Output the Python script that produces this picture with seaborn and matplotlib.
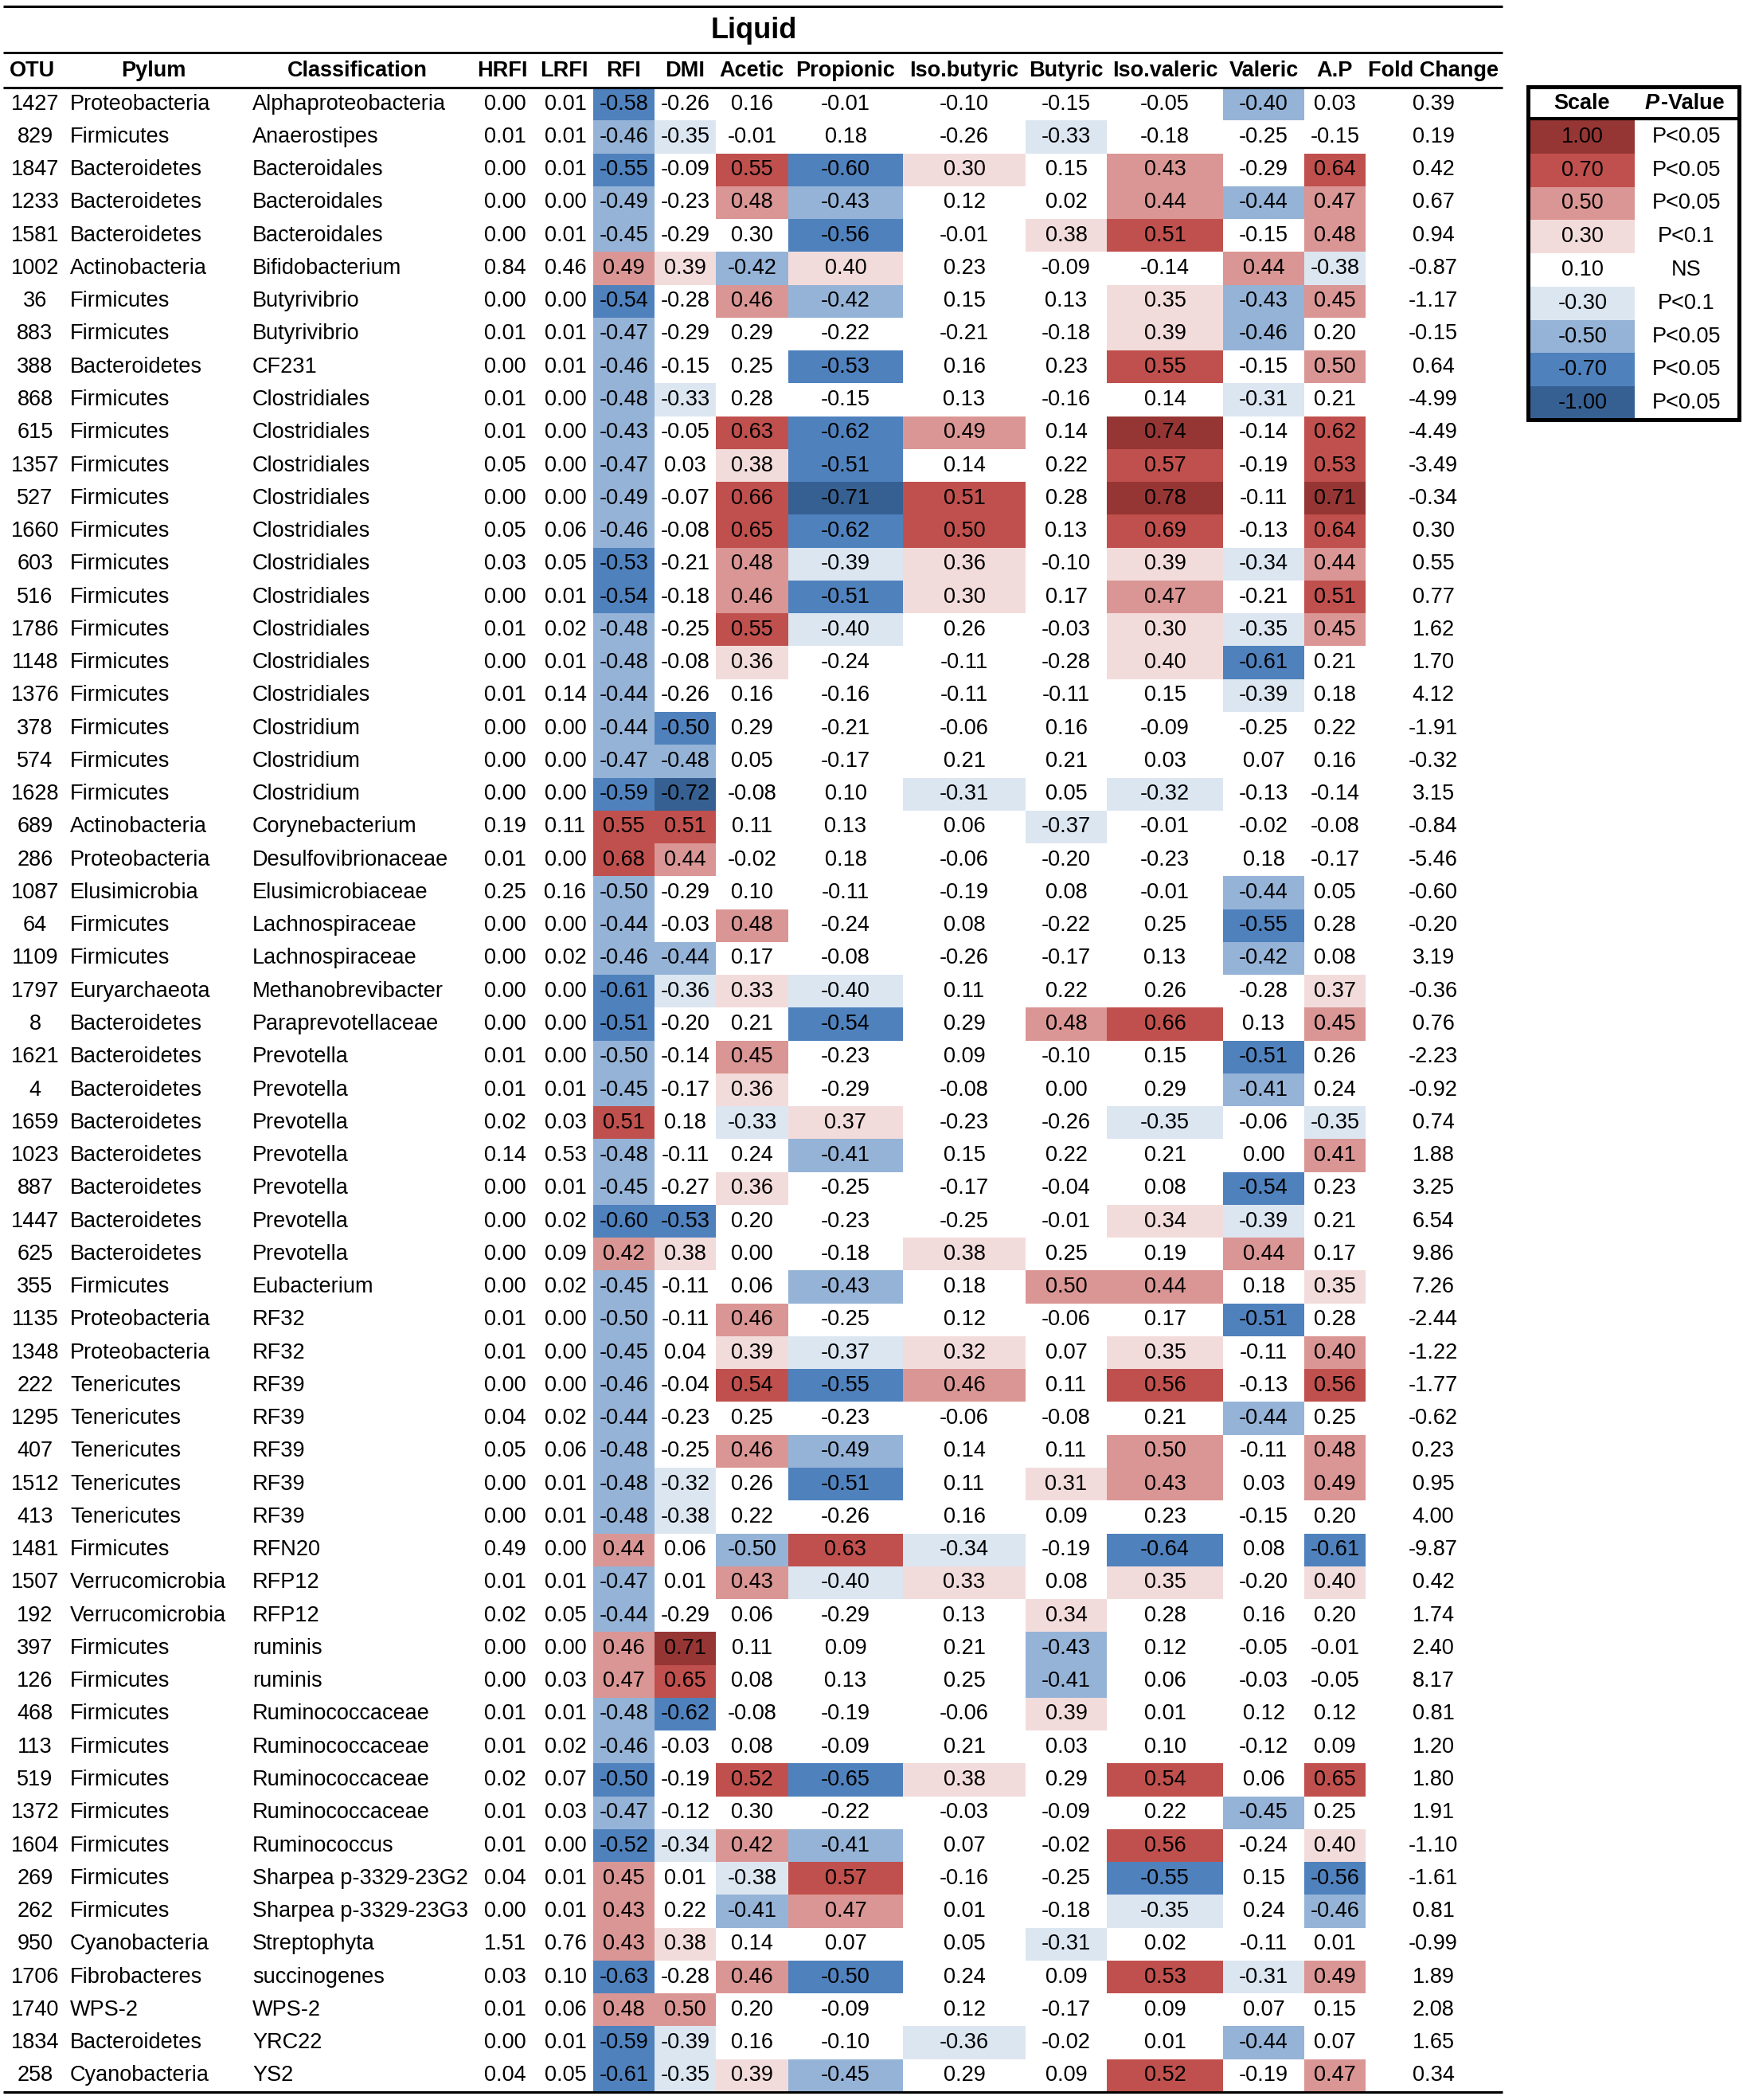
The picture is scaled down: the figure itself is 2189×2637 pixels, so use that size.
import numpy as np
import pandas as pd
import matplotlib
matplotlib.use('Agg')
import matplotlib.pyplot as plt
from matplotlib.colors import ListedColormap
from matplotlib.patches import Rectangle
import seaborn as sns

plt.rcParams['font.family'] = ['Liberation Sans', 'DejaVu Sans']

otu = [1427, 829, 1847, 1233, 1581, 1002, 36, 883, 388, 868,
       615, 1357, 527, 1660, 603, 516, 1786, 1148, 1376, 378,
       574, 1628, 689, 286, 1087, 64, 1109, 1797, 8, 1621,
       4, 1659, 1023, 887, 1447, 625, 355, 1135, 1348, 222,
       1295, 407, 1512, 413, 1481, 1507, 192, 397, 126, 468,
       113, 519, 1372, 1604, 269, 262, 950, 1706, 1740, 1834,
       258]

pylum = ['Proteobacteria', 'Firmicutes', 'Bacteroidetes', 'Bacteroidetes', 'Bacteroidetes',
         'Actinobacteria', 'Firmicutes', 'Firmicutes', 'Bacteroidetes', 'Firmicutes',
         'Firmicutes', 'Firmicutes', 'Firmicutes', 'Firmicutes', 'Firmicutes',
         'Firmicutes', 'Firmicutes', 'Firmicutes', 'Firmicutes', 'Firmicutes',
         'Firmicutes', 'Firmicutes', 'Actinobacteria', 'Proteobacteria', 'Elusimicrobia',
         'Firmicutes', 'Firmicutes', 'Euryarchaeota', 'Bacteroidetes', 'Bacteroidetes',
         'Bacteroidetes', 'Bacteroidetes', 'Bacteroidetes', 'Bacteroidetes', 'Bacteroidetes',
         'Bacteroidetes', 'Firmicutes', 'Proteobacteria', 'Proteobacteria', 'Tenericutes',
         'Tenericutes', 'Tenericutes', 'Tenericutes', 'Tenericutes', 'Firmicutes',
         'Verrucomicrobia', 'Verrucomicrobia', 'Firmicutes', 'Firmicutes', 'Firmicutes',
         'Firmicutes', 'Firmicutes', 'Firmicutes', 'Firmicutes', 'Firmicutes',
         'Firmicutes', 'Cyanobacteria', 'Fibrobacteres', 'WPS-2', 'Bacteroidetes',
         'Cyanobacteria']

classification = ['Alphaproteobacteria', 'Anaerostipes', 'Bacteroidales', 'Bacteroidales', 'Bacteroidales',
                  'Bifidobacterium', 'Butyrivibrio', 'Butyrivibrio', 'CF231', 'Clostridiales',
                  'Clostridiales', 'Clostridiales', 'Clostridiales', 'Clostridiales', 'Clostridiales',
                  'Clostridiales', 'Clostridiales', 'Clostridiales', 'Clostridiales', 'Clostridium',
                  'Clostridium', 'Clostridium', 'Corynebacterium', 'Desulfovibrionaceae', 'Elusimicrobiaceae',
                  'Lachnospiraceae', 'Lachnospiraceae', 'Methanobrevibacter', 'Paraprevotellaceae', 'Prevotella',
                  'Prevotella', 'Prevotella', 'Prevotella', 'Prevotella', 'Prevotella',
                  'Prevotella', 'Eubacterium', 'RF32', 'RF32', 'RF39',
                  'RF39', 'RF39', 'RF39', 'RF39', 'RFN20',
                  'RFP12', 'RFP12', 'ruminis', 'ruminis', 'Ruminococcaceae',
                  'Ruminococcaceae', 'Ruminococcaceae', 'Ruminococcaceae', 'Ruminococcus', 'Sharpea p-3329-23G2',
                  'Sharpea p-3329-23G3', 'Streptophyta', 'succinogenes', 'WPS-2', 'YRC22',
                  'YS2']

hrfi = [0.00, 0.01, 0.00, 0.00, 0.00, 0.84, 0.00, 0.01, 0.00, 0.01,
        0.01, 0.05, 0.00, 0.05, 0.03, 0.00, 0.01, 0.00, 0.01, 0.00,
        0.00, 0.00, 0.19, 0.01, 0.25, 0.00, 0.00, 0.00, 0.00, 0.01,
        0.01, 0.02, 0.14, 0.00, 0.00, 0.00, 0.00, 0.01, 0.01, 0.00,
        0.04, 0.05, 0.00, 0.00, 0.49, 0.01, 0.02, 0.00, 0.00, 0.01,
        0.01, 0.02, 0.01, 0.01, 0.04, 0.00, 1.51, 0.03, 0.01, 0.00,
        0.04]
lrfi = [0.01, 0.01, 0.01, 0.00, 0.01, 0.46, 0.00, 0.01, 0.01, 0.00,
        0.00, 0.00, 0.00, 0.06, 0.05, 0.01, 0.02, 0.01, 0.14, 0.00,
        0.00, 0.00, 0.11, 0.00, 0.16, 0.00, 0.02, 0.00, 0.00, 0.00,
        0.01, 0.03, 0.53, 0.01, 0.02, 0.09, 0.02, 0.00, 0.00, 0.00,
        0.02, 0.06, 0.01, 0.01, 0.00, 0.01, 0.05, 0.00, 0.03, 0.01,
        0.02, 0.07, 0.03, 0.00, 0.01, 0.01, 0.76, 0.10, 0.06, 0.01,
        0.05]
rfi = [-0.58, -0.46, -0.55, -0.49, -0.45, 0.49, -0.54, -0.47, -0.46, -0.48,
       -0.43, -0.47, -0.49, -0.46, -0.53, -0.54, -0.48, -0.48, -0.44, -0.44,
       -0.47, -0.59, 0.55, 0.68, -0.50, -0.44, -0.46, -0.61, -0.51, -0.50,
       -0.45, 0.51, -0.48, -0.45, -0.60, 0.42, -0.45, -0.50, -0.45, -0.46,
       -0.44, -0.48, -0.48, -0.48, 0.44, -0.47, -0.44, 0.46, 0.47, -0.48,
       -0.46, -0.50, -0.47, -0.52, 0.45, 0.43, 0.43, -0.63, 0.48, -0.59,
       -0.61]
dmi = [-0.26, -0.35, -0.09, -0.23, -0.29, 0.39, -0.28, -0.29, -0.15, -0.33,
       -0.05, 0.03, -0.07, -0.08, -0.21, -0.18, -0.25, -0.08, -0.26, -0.50,
       -0.48, -0.72, 0.51, 0.44, -0.29, -0.03, -0.44, -0.36, -0.20, -0.14,
       -0.17, 0.18, -0.11, -0.27, -0.53, 0.38, -0.11, -0.11, 0.04, -0.04,
       -0.23, -0.25, -0.32, -0.38, 0.06, 0.01, -0.29, 0.71, 0.65, -0.62,
       -0.03, -0.19, -0.12, -0.34, 0.01, 0.22, 0.38, -0.28, 0.50, -0.39,
       -0.35]
acetic = [0.16, -0.01, 0.55, 0.48, 0.30, -0.42, 0.46, 0.29, 0.25, 0.28,
          0.63, 0.38, 0.66, 0.65, 0.48, 0.46, 0.55, 0.36, 0.16, 0.29,
          0.05, -0.08, 0.11, -0.02, 0.10, 0.48, 0.17, 0.33, 0.21, 0.45,
          0.36, -0.33, 0.24, 0.36, 0.20, 0.00, 0.06, 0.46, 0.39, 0.54,
          0.25, 0.46, 0.26, 0.22, -0.50, 0.43, 0.06, 0.11, 0.08, -0.08,
          0.08, 0.52, 0.30, 0.42, -0.38, -0.41, 0.14, 0.46, 0.20, 0.16,
          0.39]
propionic = [-0.01, 0.18, -0.60, -0.43, -0.56, 0.40, -0.42, -0.22, -0.53, -0.15,
             -0.62, -0.51, -0.71, -0.62, -0.39, -0.51, -0.40, -0.24, -0.16, -0.21,
             -0.17, 0.10, 0.13, 0.18, -0.11, -0.24, -0.08, -0.40, -0.54, -0.23,
             -0.29, 0.37, -0.41, -0.25, -0.23, -0.18, -0.43, -0.25, -0.37, -0.55,
             -0.23, -0.49, -0.51, -0.26, 0.63, -0.40, -0.29, 0.09, 0.13, -0.19,
             -0.09, -0.65, -0.22, -0.41, 0.57, 0.47, 0.07, -0.50, -0.09, -0.10,
             -0.45]
isobutyric = [-0.10, -0.26, 0.30, 0.12, -0.01, 0.23, 0.15, -0.21, 0.16, 0.13,
              0.49, 0.14, 0.51, 0.50, 0.36, 0.30, 0.26, -0.11, -0.11, -0.06,
              0.21, -0.31, 0.06, -0.06, -0.19, 0.08, -0.26, 0.11, 0.29, 0.09,
              -0.08, -0.23, 0.15, -0.17, -0.25, 0.38, 0.18, 0.12, 0.32, 0.46,
              -0.06, 0.14, 0.11, 0.16, -0.34, 0.33, 0.13, 0.21, 0.25, -0.06,
              0.21, 0.38, -0.03, 0.07, -0.16, 0.01, 0.05, 0.24, 0.12, -0.36,
              0.29]
butyric = [-0.15, -0.33, 0.15, 0.02, 0.38, -0.09, 0.13, -0.18, 0.23, -0.16,
           0.14, 0.22, 0.28, 0.13, -0.10, 0.17, -0.03, -0.28, -0.11, 0.16,
           0.21, 0.05, -0.37, -0.20, 0.08, -0.22, -0.17, 0.22, 0.48, -0.10,
           0.00, -0.26, 0.22, -0.04, -0.01, 0.25, 0.50, -0.06, 0.07, 0.11,
           -0.08, 0.11, 0.31, 0.09, -0.19, 0.08, 0.34, -0.43, -0.41, 0.39,
           0.03, 0.29, -0.09, -0.02, -0.25, -0.18, -0.31, 0.09, -0.17, -0.02,
           0.09]
isovaleric = [-0.05, -0.18, 0.43, 0.44, 0.51, -0.14, 0.35, 0.39, 0.55, 0.14,
              0.74, 0.57, 0.78, 0.69, 0.39, 0.47, 0.30, 0.40, 0.15, -0.09,
              0.03, -0.32, -0.01, -0.23, -0.01, 0.25, 0.13, 0.26, 0.66, 0.15,
              0.29, -0.35, 0.21, 0.08, 0.34, 0.19, 0.44, 0.17, 0.35, 0.56,
              0.21, 0.50, 0.43, 0.23, -0.64, 0.35, 0.28, 0.12, 0.06, 0.01,
              0.10, 0.54, 0.22, 0.56, -0.55, -0.35, 0.02, 0.53, 0.09, 0.01,
              0.52]
valeric = [-0.40, -0.25, -0.29, -0.44, -0.15, 0.44, -0.43, -0.46, -0.15, -0.31,
           -0.14, -0.19, -0.11, -0.13, -0.34, -0.21, -0.35, -0.61, -0.39, -0.25,
           0.07, -0.13, -0.02, 0.18, -0.44, -0.55, -0.42, -0.28, 0.13, -0.51,
           -0.41, -0.06, 0.00, -0.54, -0.39, 0.44, 0.18, -0.51, -0.11, -0.13,
           -0.44, -0.11, 0.03, -0.15, 0.08, -0.20, 0.16, -0.05, -0.03, 0.12,
           -0.12, 0.06, -0.45, -0.24, 0.15, 0.24, -0.11, -0.31, 0.07, -0.44,
           -0.19]
ap = [0.03, -0.15, 0.64, 0.47, 0.48, -0.38, 0.45, 0.20, 0.50, 0.21,
      0.62, 0.53, 0.71, 0.64, 0.44, 0.51, 0.45, 0.21, 0.18, 0.22,
      0.16, -0.14, -0.08, -0.17, 0.05, 0.28, 0.08, 0.37, 0.45, 0.26,
      0.24, -0.35, 0.41, 0.23, 0.21, 0.17, 0.35, 0.28, 0.40, 0.56,
      0.25, 0.48, 0.49, 0.20, -0.61, 0.40, 0.20, -0.01, -0.05, 0.12,
      0.09, 0.65, 0.25, 0.40, -0.56, -0.46, 0.01, 0.49, 0.15, 0.07,
      0.47]
fold_change = [0.39, 0.19, 0.42, 0.67, 0.94, -0.87, -1.17, -0.15, 0.64, -4.99,
               -4.49, -3.49, -0.34, 0.30, 0.55, 0.77, 1.62, 1.70, 4.12, -1.91,
               -0.32, 3.15, -0.84, -5.46, -0.60, -0.20, 3.19, -0.36, 0.76, -2.23,
               -0.92, 0.74, 1.88, 3.25, 6.54, 9.86, 7.26, -2.44, -1.22, -1.77,
               -0.62, 0.23, 0.95, 4.00, -9.87, 0.42, 1.74, 2.40, 8.17, 0.81,
               1.20, 1.80, 1.91, -1.10, -1.61, 0.81, -0.99, 1.89, 2.08, 1.65,
               0.34]

# cells whose printed value sits on a class boundary but are shaded one class up
boundary_levels = {(1847, 'Iso.butyric'): 1, (516, 'Iso.butyric'): 1, (1786, 'Iso.valeric'): 1,
                   (1427, 'Valeric'): -2, (1348, 'A.P'): 2,
                   (1660, 'Iso.butyric'): 3, (378, 'DMI'): -3, (519, 'RFI'): -3,
                   (1706, 'Propionic'): -3}

scale_labels = ['1.00', '0.70', '0.50', '0.30', '0.10', '-0.30', '-0.50', '-0.70', '-1.00']
scale_levels = [4, 3, 2, 1, 0, -1, -2, -3, -4]
p_labels = ['P<0.05', 'P<0.05', 'P<0.05', 'P<0.1', 'NS', 'P<0.1', 'P<0.05', 'P<0.05', 'P<0.05']

corr = pd.DataFrame({'RFI': rfi, 'DMI': dmi, 'Acetic': acetic, 'Propionic': propionic,
                     'Iso.butyric': isobutyric, 'Butyric': butyric, 'Iso.valeric': isovaleric,
                     'Valeric': valeric, 'A.P': ap}, index=otu)


def level(v):
    a = round(abs(v), 2)
    n = 4 if a >= 0.70 else 3 if a > 0.50 else 2 if a > 0.40 else 1 if a > 0.30 else 0
    return int(np.sign(v)) * n


levels = corr.map(level)
for (o, c), lv in boundary_levels.items():
    levels.loc[o, c] = lv

colores = ['#366092', '#4F81BD', '#95B3D7', '#DCE6F1', '#FFFFFF',
           '#F2DCDB', '#DA9694', '#C0504D', '#963634']
cmap = ListedColormap(colores)

# ---- layout (pixels) ----
W, H = 2189, 2637
top, bottom = 110, 2627
row_h = (bottom - top) / len(otu)
fs = 19.5

fig = plt.figure(figsize=(W / 100, H / 100), dpi=100)


def caja(x0, y0, x1, y1):
    return [x0 / W, 1 - y1 / H, (x1 - x0) / W, (y1 - y0) / H]


col_edges = {'RFI': (745, 822), 'DMI': (822, 899), 'Acetic': (899, 990),
             'Propionic': (990, 1134), 'Iso.butyric': (1134, 1288), 'Butyric': (1288, 1390),
             'Iso.valeric': (1390, 1536), 'Valeric': (1536, 1638), 'A.P': (1638, 1715)}

for col, (x0, x1) in col_edges.items():
    hax = fig.add_axes(caja(x0, top, x1, bottom))
    sns.heatmap(levels[[col]], ax=hax, cmap=cmap, vmin=-4.5, vmax=4.5, cbar=False,
                annot=corr[[col]].values, fmt='.2f',
                annot_kws={'color': 'black', 'fontsize': fs},
                xticklabels=False, yticklabels=False)
    hax.set_xlabel('')
    hax.set_ylabel('')

# legend heatmap
lax = fig.add_axes(caja(1922, 151, 2053, 527))
sns.heatmap(pd.DataFrame({'Scale': scale_levels}), ax=lax, cmap=cmap, vmin=-4.5, vmax=4.5,
            cbar=False, annot=np.array(scale_labels).reshape(-1, 1), fmt='',
            annot_kws={'color': 'black', 'fontsize': fs},
            xticklabels=False, yticklabels=False)
lax.set_xlabel('')
lax.set_ylabel('')

# overlay for text and rules
ax = fig.add_axes([0, 0, 1, 1])
ax.set_xlim(0, W)
ax.set_ylim(H, 0)
ax.axis('off')

ax.text(947, 39, 'Liquid', ha='center', va='center', fontsize=26, fontweight='bold')

headers = ['OTU', 'Pylum', 'Classification', 'HRFI', 'LRFI', 'RFI', 'DMI', 'Acetic', 'Propionic',
           'Iso.butyric', 'Butyric', 'Iso.valeric', 'Valeric', 'A.P', 'Fold Change']
header_x = [40, 193, 449, 631, 708, 783, 860, 944, 1062, 1211, 1339, 1463, 1587, 1676, 1800]
for h, x in zip(headers, header_x):
    ax.text(x, 89, h, ha='center', va='center', fontsize=fs, fontweight='bold')

for i in range(len(otu)):
    y = top + (i + 0.5) * row_h
    ax.text(44, y, str(otu[i]), ha='center', va='center', fontsize=fs)
    ax.text(88, y, pylum[i], ha='left', va='center', fontsize=fs)
    ax.text(317, y, classification[i], ha='left', va='center', fontsize=fs)
    ax.text(634, y, f'{hrfi[i]:.2f}', ha='center', va='center', fontsize=fs)
    ax.text(710, y, f'{lrfi[i]:.2f}', ha='center', va='center', fontsize=fs)
    ax.text(1800, y, f'{fold_change[i]:.2f}', ha='center', va='center', fontsize=fs)

for y, lw in [(8, 2.2), (66, 2.0), (110, 2.2), (2627, 2.2)]:
    ax.plot([4, 1887], [y, y], color='black', lw=lw, solid_capstyle='butt')

# legend frame and labels
ax.add_patch(Rectangle((1919, 109), 265, 418, fill=False, edgecolor='black', lw=3.6))
ax.plot([1919, 2184], [149, 149], color='black', lw=3.0)
ax.text(1986, 130, 'Scale', ha='center', va='center', fontsize=fs, fontweight='bold')
ax.text(2084, 130, 'P', ha='right', va='center', fontsize=fs, fontweight='bold', fontstyle='italic')
ax.text(2086, 130, '-Value', ha='left', va='center', fontsize=fs, fontweight='bold')
for j, p in enumerate(p_labels):
    ax.text(2118, 151 + (j + 0.5) * (527 - 151) / 9, p, ha='center', va='center', fontsize=fs)

fig.savefig('out.png', dpi=100)
